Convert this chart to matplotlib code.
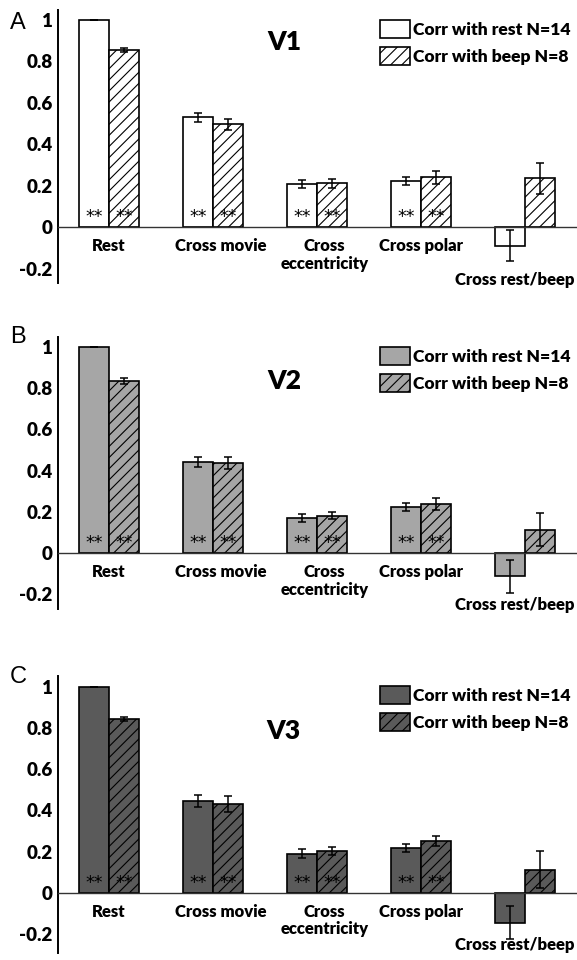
import matplotlib
matplotlib.use("Agg")
import matplotlib.pyplot as plt
import numpy as np

# ---------------- data ----------------
categories = ["Rest", "Cross movie", "Cross\neccentricity", "Cross polar", "Cross rest/beep"]
series_labels = ["Corr with rest N=14", "Corr with beep N=8"]
panel_letters = ["A", "B", "C"]
panel_titles = ["V1", "V2", "V3"]

v1_rest = [1.0, 0.530, 0.208, 0.222, -0.090]
v1_rest_err = [0.0, 0.022, 0.018, 0.021, 0.075]
v1_beep = [0.857, 0.496, 0.211, 0.240, 0.235]
v1_beep_err = [0.010, 0.026, 0.022, 0.032, 0.076]

v2_rest = [1.0, 0.442, 0.169, 0.224, -0.113]
v2_rest_err = [0.0, 0.026, 0.018, 0.018, 0.080]
v2_beep = [0.835, 0.438, 0.181, 0.238, 0.113]
v2_beep_err = [0.015, 0.028, 0.018, 0.027, 0.079]

v3_rest = [1.0, 0.444, 0.190, 0.218, -0.145]
v3_rest_err = [0.0, 0.029, 0.021, 0.019, 0.080]
v3_beep = [0.844, 0.431, 0.202, 0.250, 0.113]
v3_beep_err = [0.010, 0.041, 0.020, 0.025, 0.090]

significance = ["**", "**", "**", "**", ""]

yticks = [1, 0.8, 0.6, 0.4, 0.2, 0, -0.2]
ytick_labels = ["1", "0.8", "0.6", "0.4", "0.2", "0", "-0.2"]

# ---------------- style / layout ----------------
W, H = 577, 960
FONT = "Lato"
WEIGHT = "heavy"
panel_colors = ["#ffffff", "#a6a6a6", "#5a5a5a"]
# axes in pixel coords: (left, top, right, bottom) and ylim
panel_boxes = [(58, 9.7, 577, 283), (58, 336.7, 577, 608.6), (58, 676.4, 577, 953)]
panel_ylims = [(-0.27, 1.05), (-0.27, 1.05), (-0.292, 1.05)]
title_pos = [(1.69, 0.894), (1.69, 0.836), (1.68, 0.787)]
letter_pos = [(18, 23), (18, 337), (18, 677)]
legend_top = [20, 347, 686]
label_xoff = [0.0, 0.07, 0.07, 0.0, -0.1]
label_y = [-0.052, -0.052, -0.052, -0.052, -0.215]

plt.rcParams["hatch.linewidth"] = 0.8
fig = plt.figure(figsize=(W / 100, H / 100), dpi=100)

data = [
    (v1_rest, v1_rest_err, v1_beep, v1_beep_err),
    (v2_rest, v2_rest_err, v2_beep, v2_beep_err),
    (v3_rest, v3_rest_err, v3_beep, v3_beep_err),
]

x = np.arange(len(categories))
bw = 0.288

for p in range(3):
    l, t, r, b = panel_boxes[p]
    ax = fig.add_axes([l / W, 1 - b / H, (r - l) / W, (b - t) / H])
    rest, rest_err, beep, beep_err = data[p]
    col = panel_colors[p]
    b1 = ax.bar(x - bw / 2, rest, bw, color=col, edgecolor="black", linewidth=1.2,
                label=series_labels[0], zorder=2)
    b2 = ax.bar(x + bw / 2, beep, bw, color=col, edgecolor="black", linewidth=1.2,
                hatch="///", label=series_labels[1], zorder=2)
    ax.errorbar(x - bw / 2, rest, yerr=rest_err, fmt="none", ecolor="black",
                elinewidth=1.1, capsize=3, capthick=1.1, zorder=3)
    ax.errorbar(x + bw / 2, beep, yerr=beep_err, fmt="none", ecolor="black",
                elinewidth=1.1, capsize=3, capthick=1.1, zorder=3)
    for i, s in enumerate(significance):
        if s:
            for xx in (x[i] - bw / 2, x[i] + bw / 2):
                ax.text(xx, 0.05, s, ha="center", va="center", fontsize=12.5,
                        family="DejaVu Sans", color="black", zorder=4)
    ax.set_xlim(-0.49, 4.5)
    ax.set_ylim(*panel_ylims[p])
    ax.set_yticks(yticks)
    ax.set_yticklabels(ytick_labels, family=FONT, fontweight=WEIGHT, fontsize=13.5)
    ax.tick_params(axis="y", length=0, pad=4)
    ax.set_xticks([])
    ax.spines["top"].set_visible(False)
    ax.spines["right"].set_visible(False)
    ax.spines["bottom"].set_position(("data", 0))
    ax.spines["bottom"].set_linewidth(1.0)
    ax.spines["bottom"].set_color("#333333")
    ax.spines["left"].set_linewidth(1.4)
    ax.patch.set_alpha(0)
    for i, c in enumerate(categories):
        ax.text(x[i] + label_xoff[i], label_y[i], c,
                ha="center", va="top", fontsize=12, family=FONT,
                fontweight=WEIGHT, linespacing=1.15)
    ax.text(title_pos[p][0], title_pos[p][1], panel_titles[p], ha="center",
            va="center", fontsize=19, family=FONT, fontweight=WEIGHT)
    fig.text(letter_pos[p][0] / W, 1 - letter_pos[p][1] / H, panel_letters[p],
             ha="center", va="center", fontsize=17, family="Liberation Sans")
    ax.legend(handles=[b1, b2], loc="upper left",
              bbox_to_anchor=(380 / W, 1 - legend_top[p] / H),
              bbox_transform=fig.transFigure, frameon=False, borderpad=0,
              borderaxespad=0, handlelength=1.7, handleheight=1.2,
              handletextpad=0.2, labelspacing=0.5,
              prop={"family": FONT, "weight": WEIGHT, "size": 12.6})

fig.savefig("out.png", dpi=100)
